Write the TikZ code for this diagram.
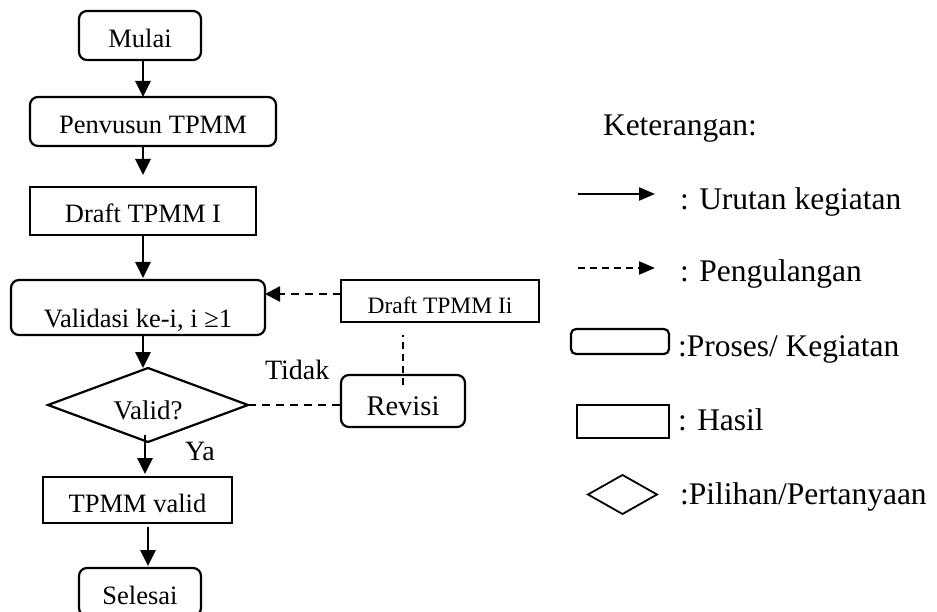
\documentclass[tikz,border=0pt]{standalone}
\usepackage{fontspec}
\setmainfont{Liberation Serif}
\usetikzlibrary{arrows.meta,shapes.geometric,calc}
\begin{document}
\begin{tikzpicture}[x=1pt,y=-1pt,
  every node/.style={inner sep=0pt, outer sep=0pt},
  boxtext/.style={font=\fontsize{26.5}{30}\selectfont, text height=24pt, text depth=0pt, align=center},
  process/.style={boxtext, draw, line width=2.2pt, rounded corners=8pt},
  result/.style={boxtext, draw, line width=2.2pt},
  decision/.style={boxtext, draw, diamond, line width=2.2pt, aspect=2.7, text height=28pt},
  flow/.style={line width=2.8pt, -{Triangle[length=16pt,width=15pt]}},
  loop/.style={line width=2.4pt, dash pattern=on 8pt off 6pt, -{Triangle[length=15pt,width=15pt]}},
  loopline/.style={line width=2.2pt, dash pattern=on 8pt off 6pt},
  lbl/.style={font=\fontsize{28}{32}\selectfont, anchor=base west},
  legend/.style={font=\fontsize{31.5}{36}\selectfont, anchor=base west},
  legendsym/.style={draw, line width=2.2pt}]

\useasboundingbox (0,0) rectangle (937,612);
\clip (0,0) rectangle (937,612);

% main flow
\node[process, minimum width=122pt, minimum height=49pt] (mulai) at (140,35.5) {Mulai};
\node[process, minimum width=246pt, minimum height=49pt] (penyusun) at (153,121.5) {Penvusun TPMM};
\node[result, minimum width=226pt, minimum height=48pt] (draft1) at (143,211) {Draft TPMM I};
\node[process, minimum width=254pt, minimum height=55pt, text height=39pt] (validasi) at (138,307.5) {Validasi ke-i, i ≥1};
\node[decision, minimum width=200pt, minimum height=74pt, font=\fontsize{27}{31}\selectfont] (cek) at (148,405) {Valid?};
\node[result, minimum width=189pt, minimum height=46pt] (tpmm) at (137.5,500) {TPMM valid};
\node[process, minimum width=122pt, minimum height=48pt] (selesai) at (140,592) {Selesai};

% revision loop
\node[result, minimum width=198pt, minimum height=42pt, font=\fontsize{23.5}{28}\selectfont] (draft2) at (440,301) {Draft TPMM Ii};
\node[process, minimum width=124pt, minimum height=52pt, font=\fontsize{28.5}{32}\selectfont, text height=28pt] (revisi) at (403,401) {Revisi};

\node[lbl] (tidak) at (265,379) {Tidak};
\node[lbl] (ya) at (185,460) {Ya};

% connectors
\coordinate (colA) at (143,0);
\coordinate (colB) at (145,0);
\coordinate (colC) at (148,0);
\coordinate (rowL) at (0,294);
\draw[flow] (mulai.south -| colA) -- (penyusun.north -| colA);
\draw[flow, shorten >=12pt] (penyusun.south -| colA) -- (draft1.north -| colA);
\draw[flow, shorten >=2pt] (draft1.south -| colA) -- (validasi.north -| colA);
\draw[flow] (validasi.south -| colA) -- (cek.north -| colA);
\draw[flow, shorten <=-7pt, shorten >=3pt] (cek.south -| colB) -- (tpmm.north -| colB);
\draw[flow, shorten <=4pt, shorten >=2pt] (tpmm.south -| colC) -- (selesai.north -| colC);

\draw[loop] (draft2.west |- rowL) -- (validasi.east |- rowL);
\draw[loopline] (cek.east) -- (revisi.west |- cek.east);
\draw[line width=1.5pt, dash pattern=on 7pt off 5pt, shorten <=-10pt, shorten >=13pt] (revisi.north) -- (draft2.south -| revisi.north);

% legend
\node[legend] (ket) at (603,136) {Keterangan:};
\coordinate (s1) at (578,194);
\coordinate (s2) at (655,194);
\draw[line width=2.4pt, -{Triangle[length=16pt,width=13pt]}] (s1) -- (s2);
\node[legend] (t1) at (680,210) {: Urutan kegiatan};
\coordinate (d1) at (578,268);
\coordinate (d2) at (655,268);
\draw[line width=2.4pt, dash pattern=on 7pt off 5pt, -{Triangle[length=16pt,width=13pt]}] (d1) -- (d2);
\node[legend] (t2) at (680,282) {: Pengulangan};
\node[legendsym, rounded corners=5pt, minimum width=98pt, minimum height=25pt] (lproc) at (620,341.5) {};
\node[legend] (t3) at (678,356) {:Proses/ Kegiatan};
\node[legendsym, minimum width=92pt, minimum height=33pt] (lres) at (623,421.5) {};
\node[legend] (t4) at (678,430) {: Hasil};
\node[legendsym, diamond, line width=1.8pt, minimum width=69pt, minimum height=39pt] (ldec) at (622.5,494.5) {};
\node[legend] (t5) at (680,504) {:Pilihan/Pertanyaan};
\end{tikzpicture}
\end{document}
